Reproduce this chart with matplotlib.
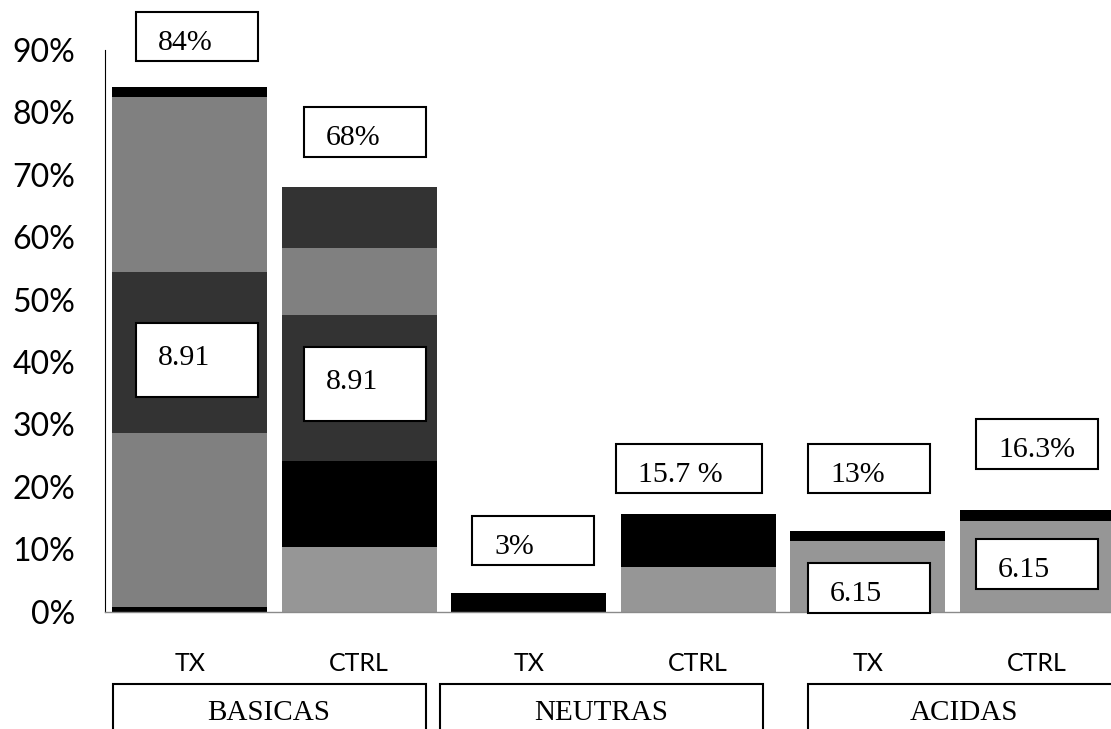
import matplotlib
import matplotlib.pyplot as plt
from matplotlib.patches import Rectangle
from matplotlib.transforms import offset_copy

# bar order: BASICAS TX, BASICAS CTRL, NEUTRAS TX, NEUTRAS CTRL, ACIDAS TX, ACIDAS CTRL
groups = ["BASICAS", "NEUTRAS", "ACIDAS"]
conditions = ["TX", "CTRL", "TX", "CTRL", "TX", "CTRL"]

# stacked segments (%), bottom to top
basicas_tx = [0.7, 28.0, 25.8, 28.0, 1.5]
basicas_ctrl = [10.3, 13.9, 23.4, 10.7, 9.7]
neutras_tx = [3.0]
neutras_ctrl = [7.2, 8.5]
acidas_tx = [11.3, 1.7]
acidas_ctrl = [14.5, 1.8]
stacks = [basicas_tx, basicas_ctrl, neutras_tx, neutras_ctrl, acidas_tx, acidas_ctrl]

total_labels = ["84%", "68%", "3%", "15.7 %", "13%", "16.3%"]
pi_labels = ["8.91", "8.91", None, None, "6.15", "6.15"]

BLACK = "#000000"
DARK = "#333333"
MID = "#808080"
LIGHT = "#969696"
seg_colors = [
    [BLACK, MID, DARK, MID, BLACK],
    [LIGHT, BLACK, DARK, MID, DARK],
    [BLACK],
    [LIGHT, BLACK],
    [LIGHT, BLACK],
    [LIGHT, BLACK],
]

matplotlib.rcParams.update({"font.family": "Lato"})
SERIF = "Liberation Serif"

W, H = 1111, 729
fig = plt.figure(figsize=(W / 100, H / 100), dpi=100)
ax = fig.add_axes([105 / W, (H - 611.7) / H, 1017 / W, 561.7 / H])

bar_w = 0.914
for i, (segs, cols) in enumerate(zip(stacks, seg_colors)):
    bottom = 0.0
    for v, c in zip(segs, cols):
        ax.bar(i, v, bottom=bottom, width=bar_w, color=c, linewidth=0)
        bottom += v

ax.set_xlim(-0.5, 5.5)
ax.set_ylim(0, 90)
ax.set_yticks(range(0, 91, 10))
ax.set_yticklabels([f"{v}%" for v in range(0, 91, 10)])
ax.tick_params(axis="y", length=0, pad=21.6, labelsize=23)
ax.set_xticks([])
for s in ["top", "right"]:
    ax.spines[s].set_visible(False)
ax.spines["left"].set_color("black")
ax.spines["left"].set_linewidth(0.8)
ax.spines["bottom"].set_color("#8a8a8a")
ax.spines["bottom"].set_linewidth(1.0)

# condition labels under each bar
for i, lbl in enumerate(conditions):
    ax.annotate(lbl, xy=(i, 0), xycoords=("data", "axes fraction"),
                xytext=(0, -59.5), textcoords="offset pixels",
                ha="center", va="baseline", fontsize=18, annotation_clip=False)

# boxed labels: (bar, left offset, width, bottom %)
px_y = 90 / 561.7
total_boxes = [(0, -0.317, 0.72, 88.2), (1, -0.326, 0.72, 72.9), (2, -0.335, 0.72, 7.5),
               (3, -0.485, 0.86, 19.0), (4, -0.353, 0.72, 19.0), (5, -0.362, 0.72, 22.9)]
pi_boxes = [(0, -0.317, 0.72, 34.4, 74), (1, -0.326, 0.72, 30.56, 74),
            (4, -0.353, 0.72, -0.2, 50), (5, -0.362, 0.72, 3.64, 50)]


def label_box(x0, y0, w, h_px, text, base_px):
    h = h_px * px_y
    ax.add_patch(Rectangle((x0, y0), w, h, facecolor="white", edgecolor="black",
                           linewidth=1.5, clip_on=False, zorder=5))
    tr = offset_copy(ax.transData, fig=fig, x=22, y=-base_px, units="dots")
    ax.text(x0, y0 + h, text, transform=tr, ha="left", va="baseline",
            fontsize=21.5, family=SERIF, zorder=6, clip_on=False)


for (i, dx, w, y0), lbl in zip(total_boxes, total_labels):
    label_box(i + dx, y0, w, 49.3, lbl, 38)

for i, dx, w, y0, hp in pi_boxes:
    label_box(i + dx, y0, w, hp, pi_labels[i], 38 if hp < 60 else 42)

# group boxes along the bottom edge
group_spans = [(112.7, 426), (440, 763), (808, 1121)]
group_text_x = [269, 601, 964]
for (x0, x1), tx, name in zip(group_spans, group_text_x, groups):
    fig.add_artist(Rectangle((x0 / W, -20 / H), (x1 - x0) / W, (H - 684 + 20) / H,
                             transform=fig.transFigure, facecolor="none",
                             edgecolor="black", linewidth=1.5))
    fig.text(tx / W, (H - 720.5) / H, name, ha="center", va="baseline",
             fontsize=21, family=SERIF)

fig.savefig("out.png", dpi=100)
